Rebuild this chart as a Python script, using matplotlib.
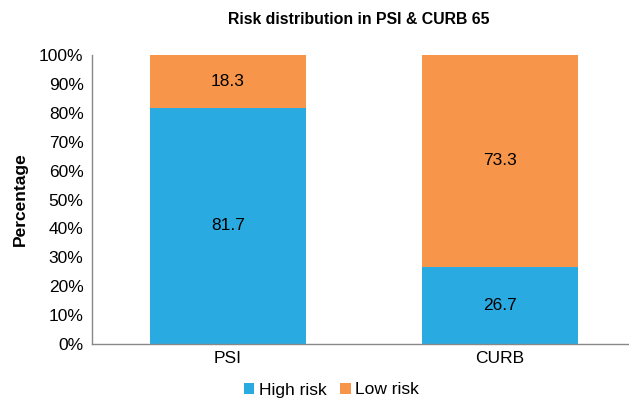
import matplotlib
matplotlib.use('Agg')
import matplotlib.pyplot as plt
from matplotlib.ticker import FuncFormatter

plt.rcParams['font.family'] = ['Liberation Sans', 'DejaVu Sans']

categories = ['PSI', 'CURB']
high_risk = [81.7, 26.7]
low_risk = [18.3, 73.3]

fig = plt.figure(figsize=(6.29, 4.0), dpi=100)
ax = fig.add_axes([0.146, 0.14, 0.865, 0.7225])

x = list(range(len(categories)))
b1 = ax.bar(x, high_risk, width=0.574, color='#29ABE2', label='High risk')
b2 = ax.bar(x, low_risk, width=0.574, bottom=high_risk, color='#F7964A', label='Low risk')

for i in x:
    ax.text(i, high_risk[i] / 2, f'{high_risk[i]:.1f}', ha='center', va='center', fontsize=12.5)
    ax.text(i, high_risk[i] + low_risk[i] / 2, f'{low_risk[i]:.1f}', ha='center', va='center', fontsize=12.5)

ax.set_xlim(-0.5, 1.5)
ax.set_ylim(0, 100)
ax.set_yticks(range(0, 101, 10))
ax.yaxis.set_major_formatter(FuncFormatter(lambda v, p: f'{int(v)}%'))
ax.set_xticks(x)
ax.set_xticklabels(categories)
ax.tick_params(axis='both', length=0, labelsize=12.5, pad=6)
ax.tick_params(axis='x', pad=5)

for s in ['top', 'right']:
    ax.spines[s].set_visible(False)
for s in ['left', 'bottom']:
    ax.spines[s].set_color('#888888')
    ax.spines[s].set_linewidth(1)

ax.set_ylabel('Percentage', fontsize=12.5, fontweight='bold', labelpad=8)
fig.text(0.571, 0.95, 'Risk distribution in PSI & CURB 65', ha='center', va='center',
         fontsize=11.4, fontweight='bold')

fig.legend(handles=[b1, b2], labels=['High risk', 'Low risk'], loc='center',
           bbox_to_anchor=(0.527, 0.025), ncol=2, frameon=False, fontsize=12.5,
           handlelength=0.6, handleheight=0.6, handletextpad=0.25, columnspacing=0.8)

fig.savefig('out.png', dpi=100)
